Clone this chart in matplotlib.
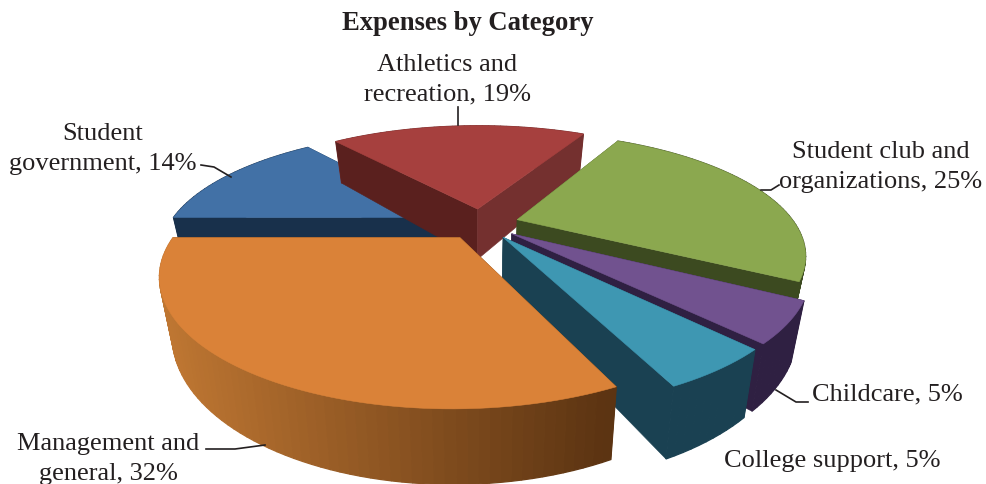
import numpy as np
import matplotlib
matplotlib.use("Agg")
import matplotlib.pyplot as plt
from matplotlib.colors import to_rgb

plt.rcParams['font.family'] = ['Liberation Serif', 'DejaVu Serif']

# Slices clockwise, first one starts at 270 degrees (9 o'clock)
categories = ["Student\ngovernment", "Athletics and\nrecreation", "Student club and\norganizations",
              "Childcare", "College support", "Management and\ngeneral"]
shares = [14, 19, 25, 5, 5, 32]
top_colors = ["#4271A6", "#A6403E", "#8BA84F", "#71528F", "#3E97B2", "#DA8238"]
start_wall = ["#18304B", "#5A201E", "#3C4A20", "#2F2042", "#1A4152", "#5C3412"]
end_wall = ["#18304B", "#74302F", "#3C4A20", "#2F2042", "#1A4152", "#5C3412"]
rim_left = ["#18304B", "#74302F", "#3C4A20", "#2F2042", "#1A4152", "#BE7632"]
rim_right = ["#18304B", "#74302F", "#3C4A20", "#2F2042", "#1A4152", "#5C3412"]

# label position, alignment
label_pos = [(103, 149, 'center'), (447, 80, 'center'), (881, 167, 'center'),
             (812, 394, 'left'), (724, 461, 'left'), (108, 459, 'center')]
leaders = [[(201, 166), (214, 168), (231, 178)],
           [(458, 108), (458, 126)],
           [(761, 191), (771, 191), (779, 186)],
           [(808, 403), (796, 403), (776, 391)],
           [],
           [(206, 450), (235, 450), (265, 446)]]

# pie geometry, in pixels
cx, cy = 481, 225
R = 278
explode = 38
squash = 0.41
persp_y = 0.28
persp_x = 0.27
height = 52
base_shrink = 0.96


def top_pt(x, y):
    return cx + x / (1 + persp_x * y / R), cy - squash * y / (1 + persp_y * y / R)


def base_pt(x, y):
    sx, sy = top_pt(x, y)
    return cx + (sx - cx) * base_shrink, sy + height / (1 + persp_y * y / R)


def quad(p0, p1):
    return [top_pt(*p0), top_pt(*p1), base_pt(*p1), base_pt(*p0)]


fig = plt.figure(figsize=(9.87, 4.85), dpi=100)
ax = fig.add_axes([0, 0, 1, 1])
ax.set_xlim(0, 987)
ax.set_ylim(485, 0)
ax.axis('off')


def paint(poly, color, z, lw=0.4):
    xs, ys = zip(*poly)
    ax.fill(xs, ys, facecolor=color, edgecolor=color, linewidth=lw, zorder=z)


start = 270.0
total = sum(shares)
for i, share in enumerate(shares):
    sweep = share / total * 360
    mid = np.radians(start + sweep / 2)
    ox, oy = explode * np.sin(mid), explode * np.cos(mid)
    ang = np.radians(np.linspace(start, start + sweep, int(sweep * 0.6) + 2))
    rim = [(ox + R * np.sin(a), oy + R * np.cos(a)) for a in ang]
    apex = (ox, oy)
    z = i * 10 + 2

    # back slices show their radial walls in front of the rim, front ones behind it
    rim_z = z if oy > 0 else z + 2
    wall_z = z + 1 if oy > 0 else z
    paint(quad(apex, rim[0]), start_wall[i], wall_z)
    paint(quad(apex, rim[-1]), end_wall[i], wall_z + 1 if oy <= 0 else wall_z)
    left = to_rgb(rim_left[i])
    right = to_rgb(rim_right[i])
    for n in sorted(range(len(rim) - 1), key=lambda n: -rim[n][1]):
        q = quad(rim[n], rim[n + 1])
        t = np.clip((q[0][0] - 170) / 440, 0, 1)
        paint(q, tuple(left[c] + (right[c] - left[c]) * t for c in range(3)), rim_z, lw=0.9)

    paint([top_pt(*apex)] + [top_pt(*p) for p in rim], top_colors[i], z + 3)
    start += sweep

ink = "#231F20"
ax.text(468, 23, "Expenses by Category", fontsize=19.2, fontweight='bold', color=ink,
        ha='center', va='center')
for name, share, (lx, ly, align), leader in zip(categories, shares, label_pos, leaders):
    ax.text(lx, ly, f"{name}, {share}%", fontsize=19, color=ink, ha=align, va='center',
            multialignment='center', linespacing=1.42, zorder=100)
    if leader:
        xs, ys = zip(*leader)
        ax.plot(xs, ys, color=ink, linewidth=1.2, zorder=100)

fig.savefig("out.png", dpi=100)
